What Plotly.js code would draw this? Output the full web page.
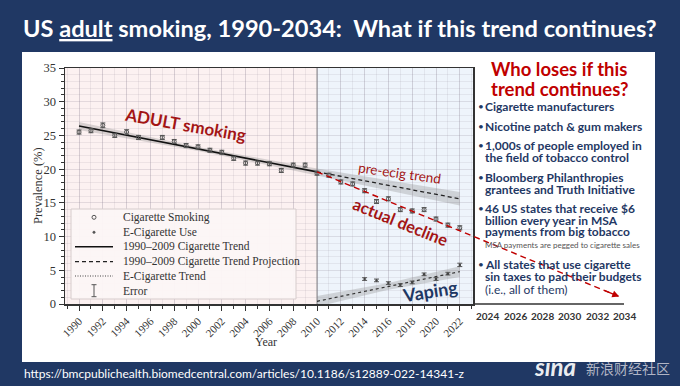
<!DOCTYPE html>
<html><head><meta charset="utf-8">
<script src="https://cdn.plot.ly/plotly-3.0.1.min.js"></script>
<style>html,body{margin:0;padding:0;background:#203864;}#chart{width:680px;height:386px;}</style>
</head><body><div id="chart"></div>
<script>
// ---- data ----
const cigYears  = [1990,1991,1992,1993,1994,1995,1997,1998,1999,2000,2001,2002,2003,2004,2005,2006,2007,2008,2009,2010,2011,2012,2013,2014,2015,2016,2017,2018,2019,2020,2021,2022];
const cigValues = [25.5,25.7,26.5,25.0,25.5,24.7,24.7,24.1,23.5,23.3,22.8,22.5,21.6,20.9,20.9,20.8,19.8,20.6,20.6,19.4,19.1,18.1,17.8,16.8,15.2,15.6,14.0,13.8,14.0,12.6,11.7,11.3];
const cigError  = [0.3,0.3,0.35,0.3,0.35,0.3,0.3,0.3,0.3,0.3,0.3,0.3,0.3,0.3,0.3,0.3,0.3,0.3,0.3,0.3,0.3,0.3,0.3,0.3,0.3,0.3,0.3,0.3,0.3,0.3,0.3,0.3];
const ecigYears  = [2014,2015,2016,2017,2018,2019,2020,2021,2022];
const ecigValues = [3.7,3.5,3.1,2.8,3.2,4.4,3.7,4.5,5.8];
const ecigError  = [0.2,0.2,0.2,0.2,0.2,0.2,0.2,0.2,0.25];
const trendYears = [1990,2010];
const trendValues = [26.4,19.6];
const projYears = [2010,2022];
const projValues = [19.6,15.6];
const cigBandYears = [1990,1995,2000,2005,2010,2016,2022];
const cigBandUpper = [27.0,25.1,23.3,21.7,20.1,18.35,16.6];
const cigBandLower = [25.8,24.3,22.7,20.9,19.1,16.85,14.6];
const ecigTrendYears = [2010,2022];
const ecigTrendValues = [0.4,4.8];
const ecigBandYears = [2010,2016,2022];
const ecigBandUpper = [1.2,3.1,5.6];
const ecigBandLower = [-0.4,2.1,4.0];
const declineYears = [2010,2035.4];
const declineValues = [19.6,1.1];
const xTickVals = [1990,1992,1994,1996,1998,2000,2002,2004,2006,2008,2010,2012,2014,2016,2018,2020,2022];
const extTickLabels = ['2024','2026','2028','2030','2032','2034'];
const legendLabels = ['Cigarette Smoking','E-Cigarette Use','1990–2009 Cigarette Trend','1990–2009 Cigarette Trend Projection','E-Cigarette Trend','Error'];
const bulletLines = [
  ['Cigarette manufacturers', true],
  ['Nicotine patch & gum makers', true],
  ['1,000s of people employed in', true],
  ['the field of tobacco control', false],
  ['Bloomberg Philanthropies', true],
  ['grantees and Truth Initiative', false],
  ['46 US states that receive $6', true],
  ['billion every year in MSA', false],
  ['payments from big tobacco', false],
  ['All states that use cigarette', true],
  ['sin taxes to pad their budgets', false]
];

// ---- geometry ----
const W = 680, H = 386;
const L = 65, T = 68, PW = 408, PH = 236;
const PX = x => (x - L) / PW;
const PY = y => (T + PH - y) / PH;
const XR = [1988.82, 2023.11];
const YR = [0, 35];
const dataToPaperX = v => (v - XR[0]) / (XR[1] - XR[0]);
const dataToPaperY = v => (v - YR[0]) / (YR[1] - YR[0]);

const navy = '#1F3864';
const dred = '#A31515';
const serif = 'Liberation Serif, DejaVu Serif, serif';
const sans = 'Lato, Open Sans, sans-serif';
const band = 'rgba(140,140,140,0.32)';

const traces = [
  {x: cigBandYears, y: cigBandUpper, mode: 'lines', line: {width: 0}, hoverinfo: 'skip'},
  {x: cigBandYears, y: cigBandLower, mode: 'lines', line: {width: 0}, fill: 'tonexty', fillcolor: band, hoverinfo: 'skip'},
  {x: ecigBandYears, y: ecigBandUpper, mode: 'lines', line: {width: 0}, hoverinfo: 'skip'},
  {x: ecigBandYears, y: ecigBandLower, mode: 'lines', line: {width: 0}, fill: 'tonexty', fillcolor: band, hoverinfo: 'skip'},
  {x: trendYears, y: trendValues, mode: 'lines', line: {color: '#111', width: 1.6}},
  {x: projYears, y: projValues, mode: 'lines', line: {color: '#222', width: 1.3, dash: '4px,3px'}},
  {x: ecigTrendYears, y: ecigTrendValues, mode: 'lines', line: {color: '#333', width: 1.2, dash: 'dot'}},
  {x: cigYears, y: cigValues, mode: 'markers', marker: {symbol: 'circle-open', size: 4, color: '#555', line: {width: 1, color: '#555'}},
   error_y: {type: 'data', array: cigError, width: 2.5, thickness: 1, color: '#555'}},
  {x: ecigYears, y: ecigValues, mode: 'markers', marker: {symbol: 'circle', size: 2.5, color: '#444'},
   error_y: {type: 'data', array: ecigError, width: 2.5, thickness: 1, color: '#555'}}
];

const shapes = [
  {type: 'rect', xref: 'paper', yref: 'paper', x0: PX(22), x1: PX(655), y0: PY(362), y1: PY(52), fillcolor: '#ffffff', line: {width: 0}, layer: 'below'},
  {type: 'rect', xref: 'x', yref: 'paper', x0: XR[0], x1: 2010, y0: 0, y1: 1, fillcolor: '#FCF1F1', line: {width: 0}, layer: 'below'},
  {type: 'rect', xref: 'x', yref: 'paper', x0: 2010, x1: XR[1], y0: 0, y1: 1, fillcolor: '#EEF4FB', line: {width: 0}, layer: 'below'},
  {type: 'line', xref: 'x', yref: 'paper', x0: 2010, x1: 2010, y0: 0, y1: 1, line: {color: '#888', width: 1}, layer: 'below'},
  {type: 'line', xref: 'paper', yref: 'paper', x0: 1, x1: PX(624), y0: 0, y1: 0, line: {color: '#333', width: 1.5}},
  {type: 'line', xref: 'paper', yref: 'paper', x0: dataToPaperX(declineYears[0]), y0: dataToPaperY(declineValues[0]),
   x1: dataToPaperX(declineYears[1]), y1: dataToPaperY(declineValues[1]), line: {color: '#C00000', width: 1.4, dash: '6px,4px'}},
  {type: 'rect', xref: 'paper', yref: 'paper', x0: PX(71), x1: PX(296), y0: PY(299), y1: PY(209), fillcolor: 'rgba(252,246,246,0.96)', line: {color: '#d6cccc', width: 1}, layer: 'above'}
];

const rowY = [217.3, 232.3, 246.7, 261.7, 276, 290.7];
const sx0 = 75, sx1 = 113, sxc = 94;
shapes.push({type: 'circle', xref: 'paper', yref: 'paper', xsizemode: 'pixel', ysizemode: 'pixel', xanchor: PX(sxc), yanchor: PY(rowY[0]), x0: -2, x1: 2, y0: -2, y1: 2, line: {color: '#555', width: 1}, layer: 'above'});
shapes.push({type: 'circle', xref: 'paper', yref: 'paper', xsizemode: 'pixel', ysizemode: 'pixel', xanchor: PX(sxc), yanchor: PY(rowY[1]), x0: -1.2, x1: 1.2, y0: -1.2, y1: 1.2, fillcolor: '#555', line: {color: '#555', width: 0.5}, layer: 'above'});
shapes.push({type: 'line', xref: 'paper', yref: 'paper', x0: PX(sx0), x1: PX(sx1), y0: PY(rowY[2]), y1: PY(rowY[2]), line: {color: '#111', width: 1.6}, layer: 'above'});
shapes.push({type: 'line', xref: 'paper', yref: 'paper', x0: PX(sx0), x1: PX(sx1), y0: PY(rowY[3]), y1: PY(rowY[3]), line: {color: '#222', width: 1.3, dash: '4px,3px'}, layer: 'above'});
shapes.push({type: 'line', xref: 'paper', yref: 'paper', x0: PX(sx0), x1: PX(sx1), y0: PY(rowY[4]), y1: PY(rowY[4]), line: {color: '#444', width: 1, dash: '1px,1.5px'}, layer: 'above'});
shapes.push({type: 'line', xref: 'paper', yref: 'paper', x0: PX(sxc), x1: PX(sxc), y0: PY(rowY[5] - 6), y1: PY(rowY[5] + 6), line: {color: '#555', width: 1}, layer: 'above'});
shapes.push({type: 'line', xref: 'paper', yref: 'paper', x0: PX(sxc - 2.5), x1: PX(sxc + 2.5), y0: PY(rowY[5] - 6), y1: PY(rowY[5] - 6), line: {color: '#555', width: 1}, layer: 'above'});
shapes.push({type: 'line', xref: 'paper', yref: 'paper', x0: PX(sxc - 2.5), x1: PX(sxc + 2.5), y0: PY(rowY[5] + 6), y1: PY(rowY[5] + 6), line: {color: '#555', width: 1}, layer: 'above'});

const ann = [];
const A = (o) => ann.push(Object.assign({xref: 'paper', yref: 'paper', showarrow: false}, o));

A({x: PX(340), y: PY(28), xanchor: 'center', yanchor: 'middle',
   text: '<b>US <u>adult</u> smoking, 1990-2034:  What if this trend continues?</b>',
   font: {family: sans, size: 23.6, color: '#ffffff'}});
A({x: PX(22), y: PY(373), xanchor: 'left', yanchor: 'middle',
   text: 'https://bmcpublichealth.biomedcentral.com/articles/10.1186/s12889-022-14341-z',
   font: {family: sans, size: 12, color: '#ffffff'}});
A({x: PX(555), y: PY(366), xanchor: 'center', yanchor: 'middle', text: '<b><i>sina</i></b>',
   font: {family: sans, size: 24, color: 'rgba(255,255,255,0.92)'}});
A({x: PX(628), y: PY(368), xanchor: 'center', yanchor: 'middle', text: '新浪财经社区',
   font: {family: 'Noto Sans CJK SC', size: 14, color: 'rgba(205,205,215,0.85)'}});

A({x: PX(38), y: PY(186), xanchor: 'center', yanchor: 'middle', textangle: -90, text: 'Prevalence (%)',
   font: {family: serif, size: 12.5, color: '#333'}});
A({x: PX(266), y: PY(342), xanchor: 'center', yanchor: 'middle', text: 'Year',
   font: {family: serif, size: 12, color: '#333'}});

const extX = [487, 515, 542, 569, 597, 624];
extTickLabels.forEach((t, i) => A({x: PX(extX[i]), y: PY(316), xanchor: 'center', yanchor: 'middle', text: '<b>' + t + '</b>',
   font: {family: sans, size: 10, color: '#333'}}));

legendLabels.forEach((t, i) => A({x: PX(121), y: PY(rowY[i]), xanchor: 'left', yanchor: 'middle', text: t,
   font: {family: serif, size: 11.5, color: '#333'}}));

A({x: PX(185), y: PY(124), xanchor: 'center', yanchor: 'middle', textangle: 10, text: '<b>ADULT smoking</b>',
   font: {family: sans, size: 17, color: dred}});
A({x: PX(399), y: PY(173), xanchor: 'center', yanchor: 'middle', textangle: 8, text: 'pre-ecig trend',
   font: {family: sans, size: 13.5, color: dred}});
A({x: PX(400), y: PY(222), xanchor: 'center', yanchor: 'middle', textangle: 22, text: '<b>actual decline</b>',
   font: {family: sans, size: 16.5, color: dred}});
A({x: PX(430), y: PY(291), xanchor: 'center', yanchor: 'middle', textangle: -9, text: '<b>Vaping</b>',
   font: {family: sans, size: 18, color: navy}});

A({x: dataToPaperX(declineYears[1]), y: dataToPaperY(declineValues[1]), showarrow: true, arrowhead: 2, arrowsize: 1, arrowwidth: 1.4,
   arrowcolor: '#C00000', ax: -16, ay: -6.5, text: ''});

A({x: PX(559), y: PY(69), xanchor: 'center', yanchor: 'middle', text: '<b>Who loses if this</b>', font: {family: sans, size: 18.5, color: '#C00000'}});
A({x: PX(559), y: PY(89), xanchor: 'center', yanchor: 'middle', text: '<b>trend continues?</b>', font: {family: sans, size: 18.5, color: '#C00000'}});
const lineY = [106, 126, 145, 157, 177, 189, 208, 220, 232, 264, 276];
bulletLines.forEach((b, i) => {
  if (b[1]) A({x: PX(476), y: PY(lineY[i]), xanchor: 'left', yanchor: 'middle', text: '•', font: {family: sans, size: 10, color: navy}});
  A({x: PX(483), y: PY(lineY[i]), xanchor: 'left', yanchor: 'middle', text: '<b>' + b[0] + '</b>', font: {family: sans, size: 12, color: navy}});
});
A({x: PX(483), y: PY(244.5), xanchor: 'left', yanchor: 'middle', text: 'MSA payments are pegged to cigarette sales', font: {family: sans, size: 8, color: '#555'}});
A({x: PX(483), y: PY(289), xanchor: 'left', yanchor: 'middle', text: '(i.e., all of them)', font: {family: sans, size: 12, color: navy}});

const gridMaj = 'rgba(130,120,140,0.20)';
const gridMin = 'rgba(130,120,140,0.12)';

const layout = {
  width: W, height: H,
  margin: {l: L, r: W - L - PW, t: T, b: H - T - PH, pad: 0},
  paper_bgcolor: '#203864',
  plot_bgcolor: 'rgba(0,0,0,0)',
  showlegend: false,
  xaxis: {range: XR, tickvals: xTickVals, ticktext: xTickVals.map(String), tickangle: -45, ticks: 'outside', ticklen: 5, tickwidth: 1, tickcolor: '#333',
    showline: true, linecolor: '#333', linewidth: 1.5, mirror: true, showgrid: true, gridcolor: gridMaj, gridwidth: 1, zeroline: false,
    minor: {dtick: 1, tick0: 1990, ticks: 'outside', ticklen: 3, tickcolor: '#333', showgrid: true, gridcolor: gridMin},
    tickfont: {family: serif, size: 11, color: '#333'}},
  yaxis: {range: YR, dtick: 5, ticks: 'outside', ticklen: 5, tickwidth: 1, tickcolor: '#333',
    showline: true, linecolor: '#333', linewidth: 1.5, mirror: true, showgrid: true, gridcolor: gridMaj, zeroline: false,
    minor: {dtick: 1, ticks: 'outside', ticklen: 3, tickcolor: '#333', showgrid: true, gridcolor: gridMin},
    tickfont: {family: serif, size: 12.5, color: '#333'}},
  shapes: shapes,
  annotations: ann
};

Plotly.newPlot('chart', traces, layout, {displayModeBar: false, staticPlot: true});
</script>
</body></html>
